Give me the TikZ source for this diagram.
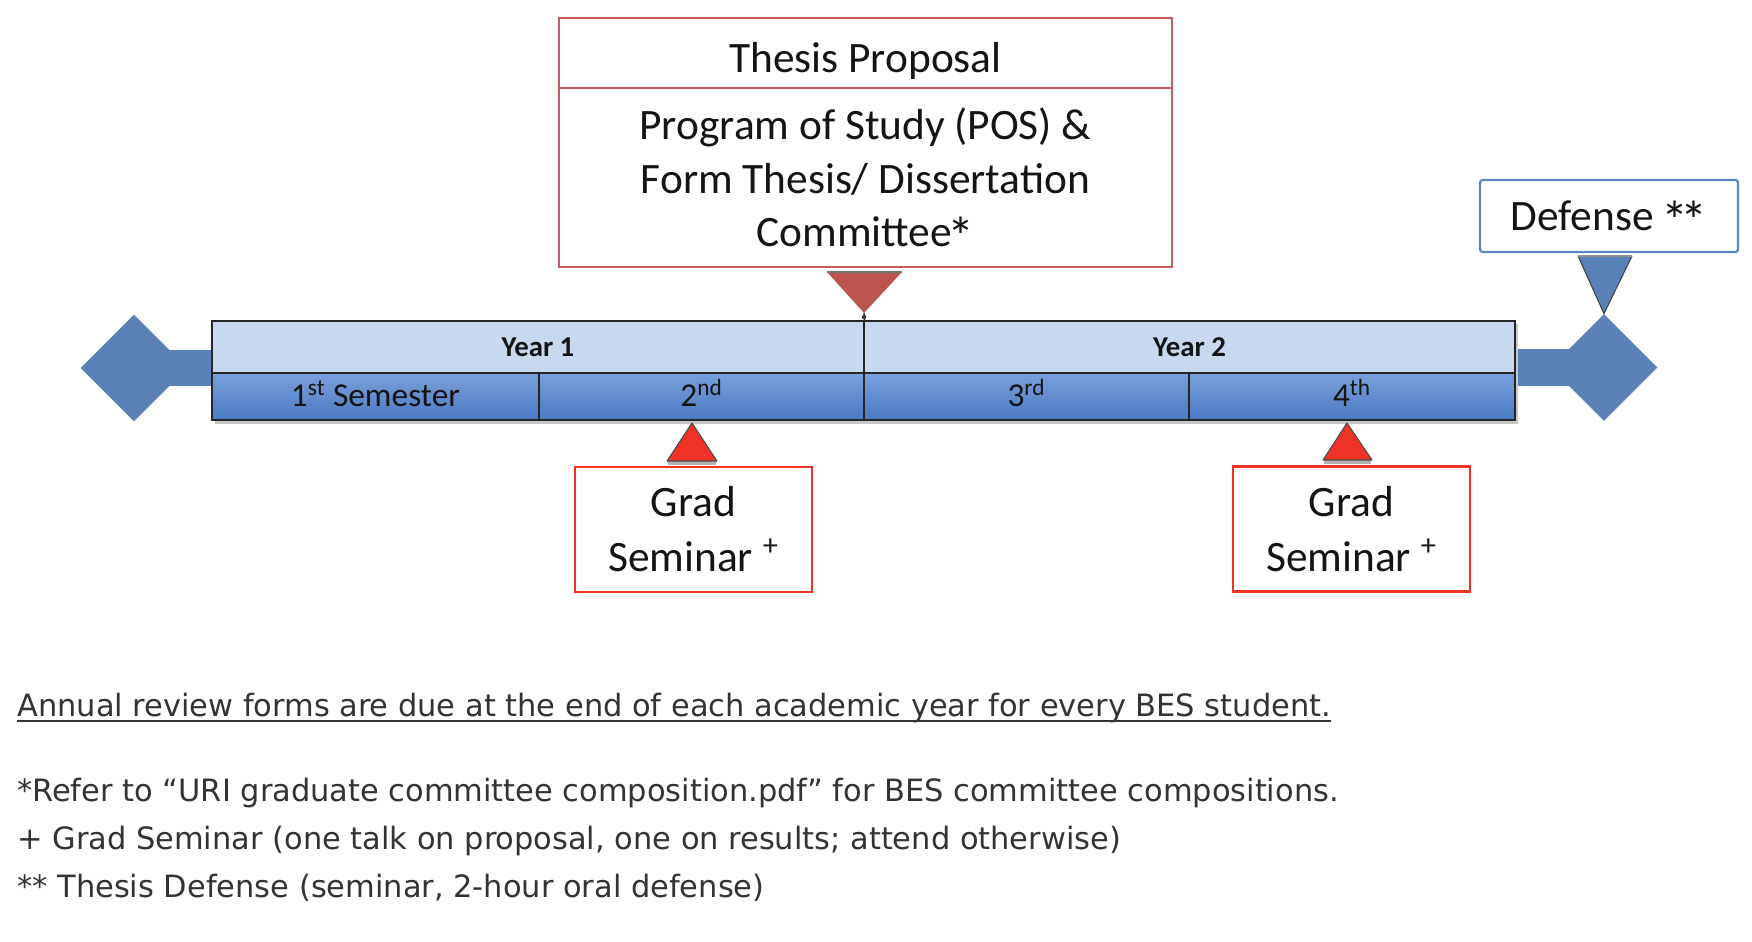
\documentclass[tikz,border=0pt]{standalone}
\usepackage{fontspec}
\usepackage{graphicx}
\setmainfont{Carlito}
\newfontfamily\fnfont{DejaVu Sans Condensed}
\usetikzlibrary{shapes.geometric,calc}
\definecolor{barlight}{HTML}{C8D9EF}
\definecolor{bartop}{HTML}{7AA0DC}
\definecolor{barbot}{HTML}{4A7AC2}
\definecolor{steel}{HTML}{5A82B8}
\definecolor{tpred}{HTML}{C65B5B}
\definecolor{tptri}{HTML}{BC5550}
\definecolor{gsred}{HTML}{EE3226}
\definecolor{defblue}{HTML}{5C87C1}
\definecolor{fngray}{HTML}{333333}
\definecolor{ink}{HTML}{141414}
\newcommand\fnsize{\fontsize{17.5}{20}\selectfont}
\newcommand\bigast{\raisebox{-0.2em}[0pt][0pt]{\scalebox{1.25}{*}}}
\newsavebox\fnbox
\AtBeginDocument{%
  \sbox\fnbox{\fnfont\fnsize Annual review forms are due at the end of each academic year for every BES student.}%
  \pgfmathsetmacro\fnx{26.28cm/\the\wd\fnbox}%
  \xdef\fnx{\fnx}}
\begin{document}
\begin{tikzpicture}[x=0.02cm,y=-0.02cm,
  yearcell/.style={draw=black!85,line width=0.9pt,fill=barlight,inner sep=0,
    minimum height=1.04cm,text height=0.72cm,text depth=0.32cm,
    font=\bfseries\fontsize{16.4}{20}\selectfont,text=ink},
  semcell/.style={draw=black!85,line width=0.9pt,top color=bartop,bottom color=barbot,inner sep=0,
    minimum height=0.94cm,text height=0.68cm,text depth=0.26cm,
    font=\fontsize{19}{23}\selectfont,text=ink},
  endmark/.style={diamond,fill=steel,inner sep=0,minimum width=2.14cm,minimum height=2.14cm},
  tpbox/.style={draw=tpred,line width=1.6pt,fill=white,inner sep=0,minimum width=12.26cm,
    align=center,text=ink},
  gsbox/.style={draw=gsred,line width=1.6pt,fill=white,inner sep=0,minimum width=4.74cm,
    minimum height=2.5cm,align=center,text=ink,font=\fontsize{24.7}{31.2}\selectfont},
  defbox/.style={draw=defblue,line width=1.3pt,rounded corners=1.5pt,fill=white,inner sep=0,
    minimum width=5.16cm,minimum height=1.44cm,text=ink,font=\fontsize{24.7}{30}\selectfont},
  fnline/.style={anchor=base west,inner sep=0,text=fngray}
]
\useasboundingbox (0,0) rectangle (1752,942);

% end markers and their connecting bars
\node[endmark] (ldia) at (134,368) {};
\node[endmark] (rdia) at (1604,367.5) {};
\fill[steel] (ldia.center) ++(0,-18) rectangle (214,386);
\fill[steel] (1513,349) rectangle (rdia.center |- 0,386);

% shadow of the timeline
\fill[black!22] (215,324) rectangle (1518,424);

% timeline cells
\node[yearcell,minimum width=13.04cm] (y1) at (538,347) {Year 1};
\node[yearcell,minimum width=13.02cm] (y2) at (1189.5,347) {Year 2};
\node[semcell,minimum width=6.54cm] (s1) at (375.5,396.5) {1\textsuperscript{st} Semester};
\node[semcell,minimum width=6.5cm] (s2) at (701.5,396.5) {2\textsuperscript{nd}};
\node[semcell,minimum width=6.5cm] (s3) at (1026.5,396.5) {3\textsuperscript{rd}};
\node[semcell,minimum width=6.52cm] (s4) at (1352,396.5) {4\textsuperscript{th}};

% thesis proposal box
\node[tpbox,text height=1.1cm,text depth=0.3cm,font=\fontsize{24.7}{30}\selectfont] (tp) at (865.5,53) {Thesis Proposal};
\node[tpbox,minimum height=3.58cm,font=\fontsize{24.7}{30.3}\selectfont] (pos) at (865.5,177.5)
  {Program of Study (POS) \&\\Form Thesis/ Dissertation\\Committee\kern-0.1em\bigast};
\coordinate (tpA) at (827,272);
\coordinate (tpB) at (902,272);
\coordinate (tpC) at (864,313);
\fill[tptri] (tpA) -- (tpB) -- (tpC) -- cycle;
\draw[black!55,line width=1pt] (tpA) -- (tpB);
\draw[black!80,line width=0.8pt] (tpC) -- (y1.north east);
\fill[black!80] (tpC) ++(0,4) circle (2.2);

% grad seminar boxes
\node[gsbox] (gs1) at (693.5,529.5) {Grad\\Seminar \textsuperscript{+}};
\node[gsbox] (gs2) at (1351.5,529) {Grad\\Seminar \textsuperscript{+}};
\coordinate (g1a) at (692,423);
\coordinate (g1l) at (667,461);
\coordinate (g1r) at (717,461);
\coordinate (g2a) at (1347,423);
\coordinate (g2l) at (1323,460);
\coordinate (g2r) at (1372,460);
\fill[black!30] (668,461) rectangle (716,465);
\fill[black!30] (1324,460) rectangle (1371,464);
\filldraw[fill=gsred,draw=black!70,line width=0.6pt,line join=round] (g1a) -- (g1r) -- (g1l) -- cycle;
\filldraw[fill=gsred,draw=black!70,line width=0.6pt,line join=round] (g2a) -- (g2r) -- (g2l) -- cycle;

% defense box
\node[defbox] (def) at (1609,216) {Defense\kern-0.06em\ \bigast\kern-0.18em\bigast};
\coordinate (dfl) at (1578,256);
\coordinate (dfr) at (1632,256);
\fill[steel] (dfl) -- (dfr) -- (rdia.north) -- cycle;
\draw[black!75,line width=0.6pt] (dfl) -- (rdia.north) -- (dfr);
\draw[black!45,line width=1pt] (dfl) -- (dfr);

% footnotes
\node[fnline] (fn1) at (17,716) {\scalebox{\fnx}[1]{\fnfont\fnsize Annual review forms are due at the end of each academic year for every BES student.}};
\draw[fngray,line width=0.04cm] ([yshift=-0.09cm]fn1.base west) -- ([yshift=-0.09cm]fn1.base east);
\node[fnline] (fn2) at (17,801) {\scalebox{\fnx}[1]{\fnfont\fnsize *Refer to “URI graduate committee composition.pdf” for BES committee compositions.}};
\node[fnline] (fn3) at (17,849) {\scalebox{\fnx}[1]{\fnfont\fnsize + Grad Seminar (one talk on proposal, one on results; attend otherwise)}};
\node[fnline] (fn4) at (17,897) {\scalebox{\fnx}[1]{\fnfont\fnsize ** Thesis Defense (seminar, 2-hour oral defense)}};
\end{tikzpicture}
\end{document}
